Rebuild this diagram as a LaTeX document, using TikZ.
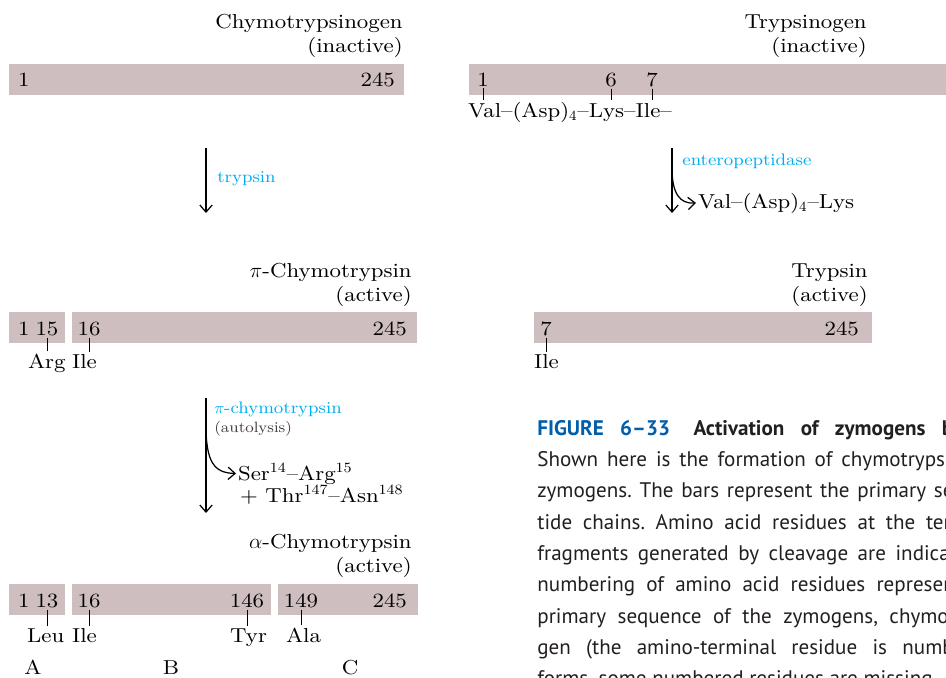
\documentclass[tikz,border=0pt]{standalone}
\usepackage{fontspec}
\setmainfont{lmroman9-regular.otf}[FakeStretch=1.1]
\newfontfamily\capfont{PT Sans}
\usetikzlibrary{arrows.meta,fit}
\definecolor{barpink}{RGB}{207,190,191}
\definecolor{enzcyan}{RGB}{0,174,239}
\definecolor{figblue}{RGB}{0,94,170}
\definecolor{captext}{RGB}{35,31,32}
\newcommand\mainsz{\fontsize{11.5pt}{13.7pt}\selectfont}
\newcommand\enzsz{\fontsize{9.5pt}{11.5pt}\selectfont}
\newcommand\notesz{\fontsize{8.5pt}{10.5pt}\selectfont}
\begin{document}
\begin{tikzpicture}[x=0.02cm, y=-0.02cm, font=\mainsz,
  >={Straight Barb[length=4pt,width=7pt]},
  bar/.style={fill=barpink, draw=none, inner sep=0pt},
  num/.style={inner sep=1pt, anchor=base},
  res/.style={inner sep=1pt, anchor=base west},
  title/.style={align=right, inner sep=0pt, anchor=north east},
  enz/.style={text=enzcyan, font=\enzsz, inner sep=0pt, anchor=base west},
  arr/.style={->, line width=0.7pt},
  tick/.style={line width=0.5pt},
  capbox/.style={anchor=north west, inner sep=0pt, text width=12.8cm, align=justify,
                 text=captext, font=\capfont\fontsize{12pt}{17.8pt}\selectfont\frenchspacing}]
  \useasboundingbox (0,0) rectangle (946,677);
  \clip (0,0) rectangle (946,677);

  % chymotrypsinogen
  \node[title] (cgen) at (403,14) {Chymotrypsinogen\\(inactive)};
  \node[bar, fit={(9,64) (404,95)}] (cbar) {};
  \node[num, anchor=base west] (c1) at (16,86) {1};
  \node[num, anchor=base east] (c245) at (397,86) {245};

  % trypsin step
  \coordinate (a1top) at (206,148);
  \coordinate (a1bot) at (206,213);
  \draw[arr] (a1top) -- (a1bot);
  \node[enz] (tryp) at (217,182) {trypsin};

  % pi-chymotrypsin
  \node[title] (pichy) at (412,263) {$\pi$-Chymotrypsin\\(active)};
  \node[bar, fit={(9,312) (65,343)}] (pbar1) {};
  \node[bar, fit={(72,312) (417,343)}] (pbar2) {};
  \node[num, anchor=base west] (p1) at (16,335) {1};
  \node[num] (p15) at (47,335) {15};
  \node[num] (p16) at (89,335) {16};
  \node[num, anchor=base east] (p245) at (409,335) {245};
  \node[res] (parg) at (26,368) {Arg};
  \node[res] (pile) at (70,368) {Ile};
  \draw[tick] (p15.south) -- (p15.south |- parg.north);
  \draw[tick] (p16.south) -- (p16.south |- pile.north);

  % autolysis step
  \coordinate (a2top) at (206,398);
  \coordinate (a2bot) at (206,513);
  \coordinate (a2fork) at (206,425);
  \draw[arr] (a2top) -- (a2bot);
  \node[enz] (pienz) at (214,413) {$\pi$-chymotrypsin};
  \node[enz, text=black!75, font=\notesz] (auto) at (214,432) {(autolysis)};
  \node[res] (ser) at (236,480) {Ser\textsuperscript{14}–Arg\textsuperscript{15}};
  \node[res] (thr) at (238,502) {+ Thr\textsuperscript{147}–Asn\textsuperscript{148}};
  \draw[arr] (a2fork) .. controls (206,462) and (214,473) .. (ser.west);

  % alpha-chymotrypsin
  \node[title] (alchy) at (412,534) {$\alpha$-Chymotrypsin\\(active)};
  \node[bar, fit={(9,584) (65,615)}] (abarA) {};
  \node[bar, fit={(72,584) (271,615)}] (abarB) {};
  \node[bar, fit={(278,584) (418,615)}] (abarC) {};
  \node[num, anchor=base west] (a1) at (16,607) {1};
  \node[num] (a13) at (47,607) {13};
  \node[num] (a16) at (89,607) {16};
  \node[num] (a146) at (247,607) {146};
  \node[num] (a149) at (301,607) {149};
  \node[num, anchor=base east] (a245) at (409,607) {245};
  \node[res] (aleu) at (25,642) {Leu};
  \node[res] (aile) at (70,642) {Ile};
  \node[res] (atyr) at (228,642) {Tyr};
  \node[res] (aala) at (284,642) {Ala};
  \draw[tick] (a13.south) -- (a13.south |- aleu.north);
  \draw[tick] (a16.south) -- (a16.south |- aile.north);
  \draw[tick] (a146.south) -- (a146.south |- atyr.north);
  \draw[tick] (a149.south) -- (a149.south |- aala.north);
  \node[num] (chA) at (33,674) {A};
  \node[num] (chB) at (171,674) {B};
  \node[num] (chC) at (350,674) {C};

  % trypsinogen
  \node[title] (tgen) at (867,14) {Trypsinogen\\(inactive)};
  \node[bar, fit={(469,64) (960,95)}] (tbar) {};
  \node[num] (t1) at (483,86) {1};
  \node[num] (t6) at (611,86) {6};
  \node[num] (t7) at (652,86) {7};
  \node[res] (tseq) at (466,117) {Val–(Asp)$_4$–Lys–Ile–};
  \draw[tick] (t1.south) -- (t1.south |- tseq.north);
  \draw[tick] (t6.south) -- (t6.south |- tseq.north);
  \draw[tick] (t7.south) -- (t7.south |- tseq.north);

  % enteropeptidase step
  \coordinate (a3top) at (672,148);
  \coordinate (a3bot) at (672,213);
  \coordinate (a3fork) at (672,168);
  \draw[arr] (a3top) -- (a3bot);
  \node[enz] (entero) at (682,165) {enteropeptidase};
  \node[res] (tpep) at (696,208) {Val–(Asp)$_4$–Lys};
  \draw[arr] (a3fork) .. controls (672,194) and (680,204) .. (tpep.west);

  % trypsin
  \node[title] (tryps) at (868,263) {Trypsin\\(active)};
  \node[bar, fit={(534,312) (872,343)}] (trbar) {};
  \node[num] (r7) at (546,335) {7};
  \node[num, anchor=base east] (r245) at (861,335) {245};
  \node[res] (rile) at (532,368) {Ile};
  \draw[tick] (r7.south) -- (r7.south |- rile.north);

  % caption
  \node[capbox] (cap) at (537,420) {\textcolor{figblue}{\bfseries FIGURE 6–33}\hspace{0.3em}
    \textbf{Activation of zymogens by proteolytic cleavage.}\linebreak
    Shown here is the formation of chymotrypsin and trypsin from their\linebreak
    zymogens. The bars represent the primary sequences of the polypep-\linebreak
    tide chains. Amino acid residues at the termini of the polypeptide\linebreak
    fragments generated by cleavage are indicated below the bars. The\linebreak
    numbering of amino acid residues represents their position in the\linebreak
    primary sequence of the zymogens, chymotrypsinogen or trypsino-\linebreak
    gen (the amino-terminal residue is numbered 1). In the active\linebreak
    forms, some numbered residues are missing.};
\end{tikzpicture}
\end{document}
